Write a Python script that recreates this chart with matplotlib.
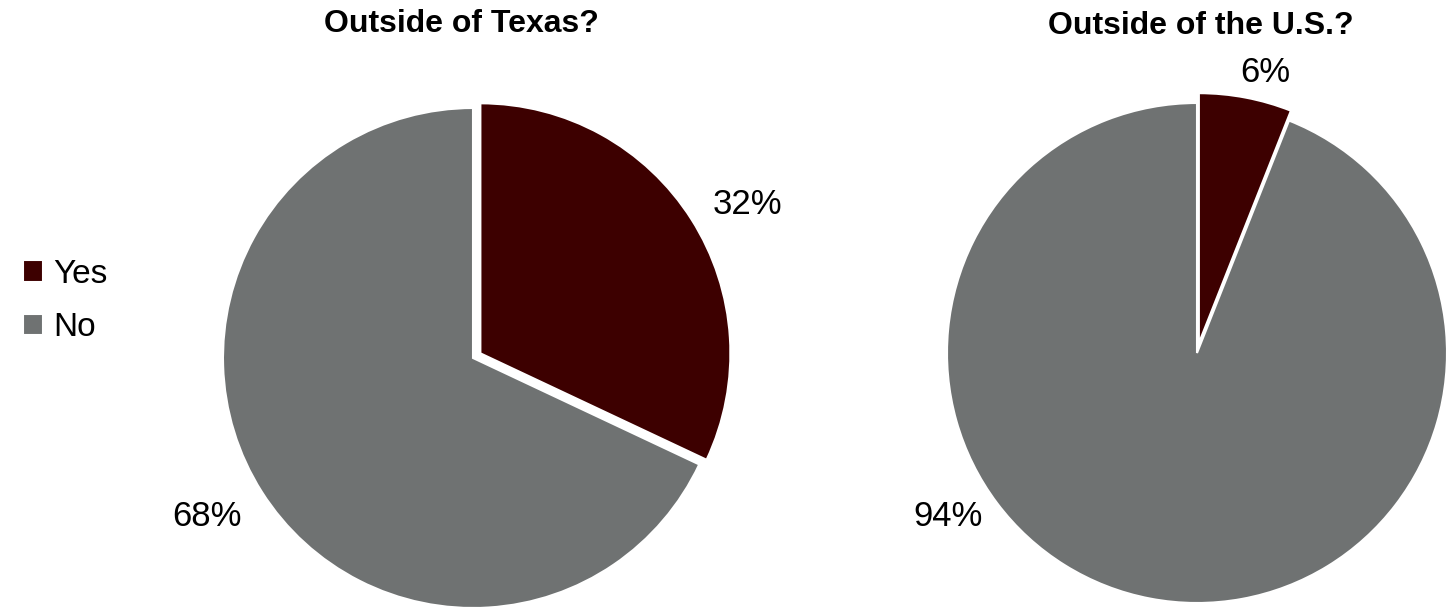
import matplotlib.pyplot as plt

# data
categories = ['Yes', 'No']
texas_values = [32, 68]
us_values = [6, 94]
titles = ['Outside of Texas?', 'Outside of the U.S.?']
colors = ['#3D0000', '#6F7272']

plt.rcParams['font.family'] = ['Liberation Sans', 'DejaVu Sans']

fig = plt.figure(figsize=(14.5, 6.11), dpi=100)

ax1 = fig.add_axes([223 / 1450, 3 / 611, 500 / 1450, 500 / 611])
ax2 = fig.add_axes([947 / 1450, 8 / 611, 500 / 1450, 500 / 611])

# first pie: yes slice pulled out a little
w1, t1 = ax1.pie(texas_values, colors=colors, startangle=90, counterclock=False,
                 explode=[0.035, 0],
                 wedgeprops=dict(edgecolor='white', linewidth=1.5, clip_on=False))
w2, t2 = ax2.pie(us_values, colors=colors, startangle=90, counterclock=False,
                 explode=[0.04, 0],
                 wedgeprops=dict(edgecolor='white', linewidth=1.5, clip_on=False))

for ax in (ax1, ax2):
    ax.set_xlim(-1, 1)
    ax.set_ylim(-1, 1)
    ax.set_aspect('equal')

# percentage labels
ax1.text(1.096, 0.616, f'{texas_values[0]}%', fontsize=25, ha='center', va='center')
ax1.text(-1.064, -0.636, f'{texas_values[1]}%', fontsize=25, ha='center', va='center')
ax2.text(0.272, 1.12, f'{us_values[0]}%', fontsize=25, ha='center', va='center')
ax2.text(-0.996, -0.652, f'{us_values[1]}%', fontsize=25, ha='center', va='center')

# titles
fig.text(461 / 1450, 1 - 24 / 611, titles[0], fontsize=23, ha='center', va='center',
         weight='bold')
fig.text(1201 / 1450, 1 - 26 / 611, titles[1], fontsize=23, ha='center', va='center',
         weight='bold')

fig.legend(w1, categories, loc='center left', bbox_to_anchor=(-0.005, 1 - 301 / 611),
           frameon=False, fontsize=24, handlelength=0.6, handleheight=0.6,
           handletextpad=0.3, labelspacing=0.68)

fig.savefig('out.png', dpi=100, facecolor='white')
